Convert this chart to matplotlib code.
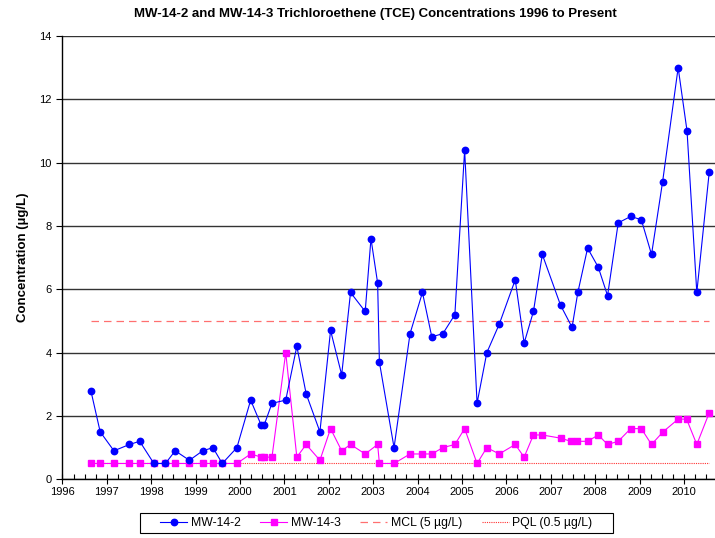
import numpy as np
import matplotlib
matplotlib.use('Agg')
import matplotlib.pyplot as plt
from matplotlib.ticker import MultipleLocator
from matplotlib.patches import Rectangle

plt.rcParams['font.family'] = ['Liberation Sans', 'DejaVu Sans']

# sample dates as decimal years
mw142_dates = [1996.64, 1996.85, 1997.16, 1997.51, 1997.74, 1998.06, 1998.32, 1998.54,
               1998.86, 1999.16, 1999.39, 1999.60, 1999.93, 2000.24, 2000.48, 2000.54,
               2000.72, 2001.03, 2001.28, 2001.49, 2001.80, 2002.04, 2002.29, 2002.49,
               2002.82, 2002.95, 2003.10, 2003.14, 2003.47, 2003.83, 2004.11, 2004.32,
               2004.57, 2004.84, 2005.06, 2005.34, 2005.56, 2005.84, 2006.20, 2006.40,
               2006.61, 2006.81, 2007.22, 2007.48, 2007.61, 2007.83, 2008.07, 2008.28,
               2008.52, 2008.80, 2009.04, 2009.27, 2009.52, 2009.87, 2010.07, 2010.29,
               2010.57]
mw142_tce = [2.8, 1.5, 0.9, 1.1, 1.2, 0.5, 0.5, 0.9,
             0.6, 0.9, 1.0, 0.5, 1.0, 2.5, 1.7, 1.7,
             2.4, 2.5, 4.2, 2.7, 1.5, 4.7, 3.3, 5.9,
             5.3, 7.6, 6.2, 3.7, 1.0, 4.6, 5.9, 4.5,
             4.6, 5.2, 10.4, 2.4, 4.0, 4.9, 6.3, 4.3,
             5.3, 7.1, 5.5, 4.8, 5.9, 7.3, 6.7, 5.8,
             8.1, 8.3, 8.2, 7.1, 9.4, 13.0, 11.0, 5.9,
             9.7]

mw143_dates = [1996.64, 1996.85, 1997.16, 1997.51, 1997.74, 1998.06, 1998.32, 1998.54,
               1998.86, 1999.16, 1999.39, 1999.60, 1999.93, 2000.24, 2000.48, 2000.54,
               2000.72, 2001.03, 2001.28, 2001.49, 2001.80, 2002.04, 2002.29, 2002.49,
               2002.82, 2003.10, 2003.14, 2003.47, 2003.83, 2004.11, 2004.32, 2004.57,
               2004.84, 2005.06, 2005.34, 2005.56, 2005.84, 2006.20, 2006.40, 2006.61,
               2006.81, 2007.22, 2007.45, 2007.60, 2007.83, 2008.07, 2008.28, 2008.52,
               2008.80, 2009.04, 2009.27, 2009.53, 2009.87, 2010.06, 2010.29, 2010.57]
mw143_tce = [0.5, 0.5, 0.5, 0.5, 0.5, 0.5, 0.5, 0.5,
             0.5, 0.5, 0.5, 0.5, 0.5, 0.8, 0.7, 0.7,
             0.7, 4.0, 0.7, 1.1, 0.6, 1.6, 0.9, 1.1,
             0.8, 1.1, 0.5, 0.5, 0.8, 0.8, 0.8, 1.0,
             1.1, 1.6, 0.5, 1.0, 0.8, 1.1, 0.7, 1.4,
             1.4, 1.3, 1.2, 1.2, 1.2, 1.4, 1.1, 1.2,
             1.6, 1.6, 1.1, 1.5, 1.9, 1.9, 1.1, 2.1]

mcl = 5.0
pql = 0.5
limit_span = [mw142_dates[0], mw142_dates[-1]]
year_ticks = list(range(1996, 2011))

fig = plt.figure(figsize=(7.15, 5.38), dpi=100)
ax = fig.add_axes([62 / 715, 58.7 / 538, 653 / 715, 443.3 / 538])

ax.plot(mw142_dates, mw142_tce, color='#0000FF', lw=0.8, marker='o', ms=4.6,
        label='MW-14-2', zorder=4)
ax.plot(mw143_dates, mw143_tce, color='#FF00FF', lw=0.8, marker='s', ms=4.4,
        label='MW-14-3', zorder=3)
ax.plot(limit_span, [mcl, mcl], color='#FF7070', lw=0.9, ls=(0, (6, 4)),
        label='MCL (5 \u00b5g/L)', zorder=2)
ax.plot(limit_span, [pql, pql], color='#FF3030', lw=0.8, ls=(0, (1, 1)),
        label='PQL (0.5 \u00b5g/L)', zorder=2)

ax.set_xlim(1995.99, 2010.70)
ax.set_ylim(0, 14)
ax.set_yticks(np.arange(0, 15, 2))
ax.set_xticks(year_ticks)
ax.xaxis.set_minor_locator(MultipleLocator(0.25))
ax.grid(axis='y', color='#333333', lw=1.0)
ax.set_axisbelow(True)

for side in ['top', 'right']:
    ax.spines[side].set_visible(False)
for side in ['left', 'bottom']:
    ax.spines[side].set_linewidth(1.0)
    ax.spines[side].set_color('black')

ax.tick_params(axis='x', which='major', direction='inout', length=7, width=0.8,
               labelsize=8, pad=2)
ax.tick_params(axis='x', which='minor', direction='in', length=3.5, width=0.8)
ax.tick_params(axis='y', direction='out', length=4, width=0.8, labelsize=8)

ax.set_ylabel('Concentration (\u00b5g/L)', fontsize=9.5, fontweight='bold', labelpad=7)
fig.text(375 / 715, 1 - 14 / 538,
         'MW-14-2 and MW-14-3 Trichloroethene (TCE) Concentrations 1996 to Present',
         ha='center', va='center', fontsize=9.5, fontweight='bold')

leg = fig.legend(loc='center', bbox_to_anchor=(376.5 / 715, 1 - 523 / 538), ncol=4,
                 fontsize=8.8, frameon=False,
                 handlelength=2.2, columnspacing=1.6, handletextpad=0.3,
                 borderpad=0.2, borderaxespad=0)
# plain rectangular legend frame, wider than the entries as in the original
fig.patches.append(Rectangle((140 / 715, 1 - 533 / 538), 473 / 715, 20 / 538,
                             transform=fig.transFigure, fill=False,
                             edgecolor='black', lw=0.8))

fig.savefig('out.png', dpi=100)
